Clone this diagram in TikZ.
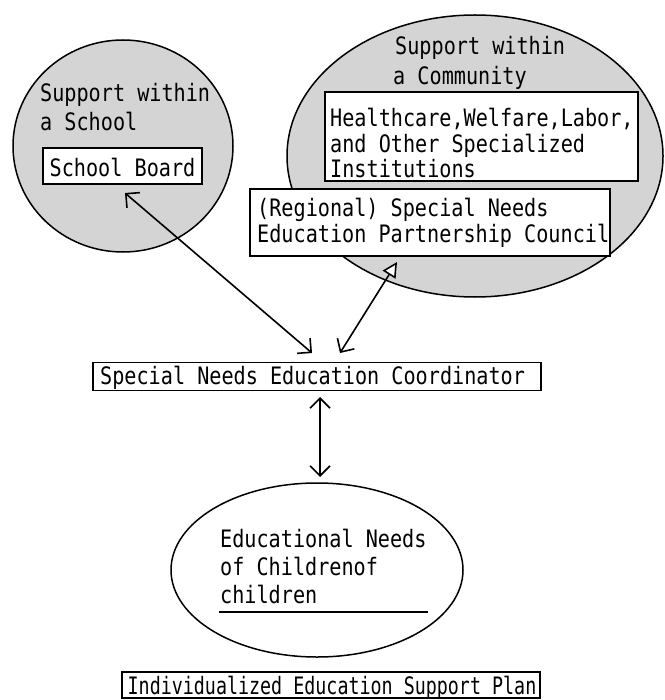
\documentclass[tikz,border=0pt]{standalone}
\usepackage{fontspec}
\usepackage{graphicx}
\usetikzlibrary{shapes.geometric,arrows.meta}
\newfontfamily\gothfont[FakeStretch=0.84]{DejaVu Sans Mono}
\definecolor{zonegray}{RGB}{212,212,212}
\begin{document}
\begin{tikzpicture}[x=1pt,y=-1pt,
  zone/.style={ellipse,draw=black,line width=1.5pt,fill=zonegray,inner sep=0pt},
  needs/.style={ellipse,draw=black,line width=1.5pt,fill=white,inner sep=0pt},
  boxed/.style={rectangle,draw=black,line width=1.5pt,fill=white,inner sep=0pt},
  lbl/.style={anchor=base west,inner sep=0pt,font=\gothfont\fontsize{24}{28}\selectfont},
  clbl/.style={anchor=base,inner sep=0pt,font=\gothfont\fontsize{24}{28}\selectfont},
  barb/.tip={Straight Barb[length=10pt,width=20pt]},
  link/.style={line width=1.6pt,barb-barb}
]
\useasboundingbox (0,0) rectangle (664,700);

% support zones
\node[zone,minimum width=220pt,minimum height=212pt] (school) at (123,146) {};
\node[zone,minimum width=376pt,minimum height=282pt] (community) at (475,156) {};

% school side
\node[lbl] (schoolA) at (40,102) {Support within};
\node[lbl] (schoolB) at (40,131) {a School};
\node[boxed,minimum width=159pt,minimum height=36pt] (board) at (122.5,166) {};
\node[clbl] (boardT) at (122.5,177) {School Board};

% community side
\node[lbl] (commA) at (395,55) {Support within};
\node[lbl] (commB) at (393,85) {a Community};
\node[boxed,minimum width=313pt,minimum height=89pt] (inst) at (481.5,136.5) {};
\node[lbl] (instA) at (330,127) {Healthcare,Welfare,Labor,};
\node[lbl] (instB) at (330,153) {and Other Specialized};
\node[lbl] (instC) at (330,178) {Institutions};
\node[boxed,minimum width=360pt,minimum height=67pt] (council) at (430,222.5) {};
\node[lbl] (councilA) at (257,217) {(Regional) Special Needs};
\node[lbl] (councilB) at (257,243) {Education Partnership Council};

% coordinator
\node[boxed,minimum width=448pt,minimum height=28pt] (coord) at (317,376.5) {};
\node[lbl] (coordT) at (100,384) {Special Needs Education Coordinator};

% children's needs
\node[needs,minimum width=292pt,minimum height=174pt] (kids) at (317,570) {};
\node[lbl] (kidsA) at (220,547) {Educational Needs};
\node[lbl] (kidsB) at (220,575) {of Childrenof};
\node[lbl] (kidsC) at (220,603) {children};
\coordinate (ulA) at (219,612);
\coordinate (ulB) at (428,612);
\draw[line width=1.5pt] (ulA) -- (ulB);

% support plan
\node[boxed,minimum width=418pt,minimum height=26pt] (plan) at (331,685) {};
\node[clbl] (planT) at (332,694) {\scalebox{0.91}[1]{Individualized Education Support Plan}};

% connectors
\coordinate (boardTip) at (125,193);
\coordinate (coordTipL) at (312,353);
\coordinate (councilTip) at (397,262);
\coordinate (coordTipR) at (340,353);
\coordinate (coordTipB) at (320,397);
\coordinate (kidsTip) at (320,477);
\draw[link] (boardTip) -- (coordTipL);
\draw[line width=1.6pt,{Triangle[length=15pt,width=15pt,fill=white]}-barb] (councilTip) -- (coordTipR);
\draw[link] (coordTipB) -- (kidsTip);
\end{tikzpicture}
\end{document}
